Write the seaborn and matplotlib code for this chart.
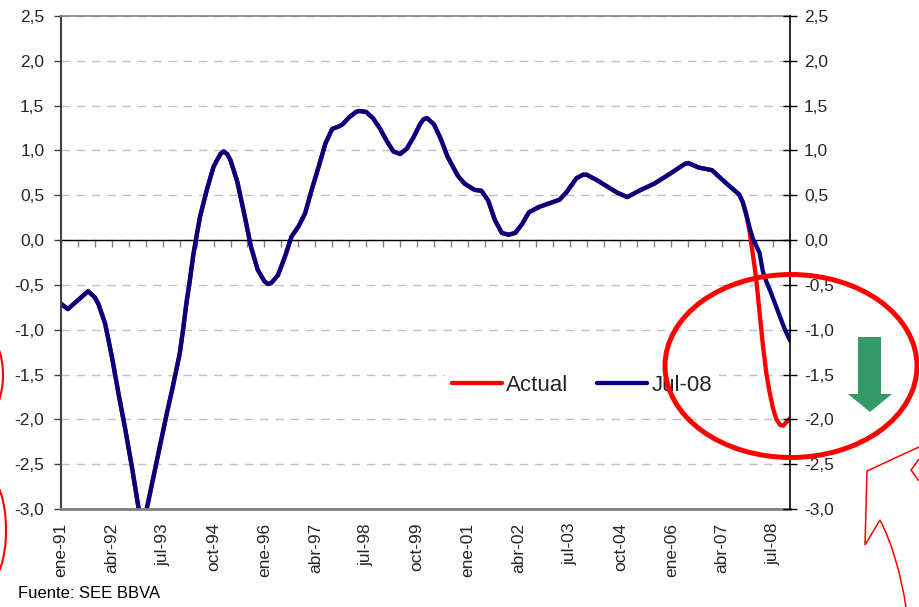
import matplotlib
matplotlib.use("Agg")
import numpy as np
import pandas as pd
import matplotlib.pyplot as plt
import seaborn as sns
from matplotlib.patches import Ellipse, Polygon, PathPatch
from matplotlib.path import Path
from matplotlib.ticker import FuncFormatter

# ---------------- data ----------------
tick_months = [0, 15, 30, 45, 60, 75, 90, 105, 120, 135, 150, 165, 180, 195, 210]
tick_labels = ["ene-91", "abr-92", "jul-93", "oct-94", "ene-96", "abr-97", "jul-98",
               "oct-99", "ene-01", "abr-02", "jul-03", "oct-04", "ene-06", "abr-07", "jul-08"]

# months counted from ene-91 (common history of both series)
hist_months = [0, 2, 5, 8, 10, 11, 13, 15, 17, 19, 21, 23, 24, 25, 27, 29, 31, 33, 35, 36, 37,
               38, 39, 40, 41, 43, 45, 47, 48, 49, 50, 52, 54, 56, 58, 60, 61, 62, 64, 66, 68, 70, 72,
               74, 76, 78, 80, 82, 83, 85, 87, 88, 90, 92, 94, 96, 98, 100, 102, 104, 106, 107, 108, 110,
               112, 114, 117, 119, 122, 124, 126, 128, 130, 132, 134, 136, 138, 141, 144, 147,
               149, 152, 154, 155, 158, 161, 164, 167, 171, 175, 180, 184, 185, 188, 192, 196, 200, 201, 202]
hist_values = [-0.71, -0.77, -0.67, -0.57, -0.64, -0.71, -0.93, -1.30, -1.72, -2.12, -2.55, -3.02, -3.15,
               -3.05, -2.69, -2.33, -1.97, -1.63, -1.27, -1.00, -0.70, -0.45, -0.17, 0.05, 0.26, 0.56,
               0.82, 0.96, 0.99, 0.96, 0.89, 0.65, 0.30, -0.07, -0.33, -0.46, -0.49, -0.48, -0.39, -0.19,
               0.04, 0.15, 0.30, 0.57, 0.82, 1.08, 1.24, 1.27, 1.29, 1.37, 1.43, 1.44, 1.43, 1.36, 1.25,
               1.11, 0.99, 0.96, 1.02, 1.15, 1.30, 1.35, 1.36, 1.29, 1.13, 0.93, 0.72, 0.63, 0.56, 0.55,
               0.44, 0.22, 0.08, 0.06, 0.08, 0.18, 0.31, 0.37, 0.41, 0.45, 0.53, 0.69, 0.73, 0.73, 0.67,
               0.60, 0.53, 0.48, 0.56, 0.63, 0.75, 0.85, 0.86, 0.81, 0.78, 0.64, 0.51, 0.43, 0.30]

tail_months = [203, 204, 205, 206, 207, 208, 209, 210, 211, 212, 213, 214, 215]
actual_tail = [0.12, -0.15, -0.42, -0.80, -1.17, -1.48, -1.70, -1.88, -2.00, -2.06, -2.07, -2.03, -1.99]
jul08_tail = [0.15, 0.02, -0.06, -0.14, -0.35, -0.46, -0.55, -0.65, -0.75, -0.85, -0.95, -1.04, -1.12]

series_names = ["Actual", "Jul-08"]
series_colors = ["#FF0000", "#000080"]
source_text = "Fuente: SEE BBVA"

# ---------------- build frame ----------------
df = pd.concat([
    pd.DataFrame({"mes": hist_months + tail_months, "valor": hist_values + actual_tail, "serie": series_names[0]}),
    pd.DataFrame({"mes": hist_months + tail_months, "valor": hist_values + jul08_tail, "serie": series_names[1]}),
], ignore_index=True)

sns.set_theme(style="white")
plt.rcParams["font.family"] = ["Liberation Sans", "DejaVu Sans"]

W, H = 919, 607
fig = plt.figure(figsize=(W / 100, H / 100), dpi=100)
fig.patch.set_facecolor("white")

L, R, T, B = 61, 790, 16, 509
rect = [L / W, 1 - B / H, (R - L) / W, (B - T) / H]
ax = fig.add_axes(rect)
ax.patch.set_visible(False)

# minor tick marks hanging from the zero line, drawn beneath the data
az = ax.twiny()
az.set_zorder(ax.get_zorder() - 1)
az.set_xlim(0, 215)
az.spines["bottom"].set_position(("data", 0))
for s in ["top", "left", "right", "bottom"]:
    az.spines[s].set_visible(False)
az.xaxis.set_ticks_position("bottom")
az.set_xticks(np.arange(0, 216, 5))
az.tick_params(axis="x", direction="out", length=5, width=1, color="#808080",
               labelbottom=False, labeltop=False, top=False, bottom=True)

ax.set_axisbelow(True)
ax.grid(axis="y", color="#C0C0C0", linestyle=(0, (6, 5)), linewidth=1.0)
ax.grid(axis="x", visible=False)
ax.axhline(0, color="black", linewidth=1.0, zorder=1.5)

sns.lineplot(data=df, x="mes", y="valor", hue="serie", hue_order=series_names,
             palette=dict(zip(series_names, series_colors)), linewidth=3.1,
             legend=False, ax=ax, sort=False, solid_joinstyle="round", solid_capstyle="round",
             zorder=2)

ax.set_xlim(0, 215)
ax.set_ylim(-3, 2.5)
yt = np.arange(-3, 2.51, 0.5)
fmt = FuncFormatter(lambda v, p: f"{v:.1f}".replace(".", ","))
ax.set_yticks(yt)
ax.yaxis.set_major_formatter(fmt)
ax.set_xticks(tick_months)
ax.set_xticklabels(tick_labels)
ax.set_xlabel("")
ax.set_ylabel("")

ax.tick_params(axis="y", direction="out", length=5, width=1, color="#404040",
               labelsize=12.5, labelcolor="#262626", pad=7, left=True)
ax.tick_params(axis="x", length=0, pad=10, labelrotation=90, labelsize=12.5, labelcolor="#262626")

ax.spines["top"].set_color("#808080")
ax.spines["top"].set_linewidth(1.2)
ax.spines["bottom"].set_color("#808080")
ax.spines["bottom"].set_linewidth(2.0)
ax.spines["left"].set_color("#404040")
ax.spines["left"].set_linewidth(1.5)
ax.spines["right"].set_visible(False)

# right axis
axr = ax.twinx()
axr.set_ylim(-3, 2.5)
axr.set_yticks(yt)
axr.yaxis.set_major_formatter(fmt)
for s in ["top", "left", "bottom"]:
    axr.spines[s].set_visible(False)
axr.spines["right"].set_color("black")
axr.spines["right"].set_linewidth(1.2)
axr.tick_params(axis="y", direction="inout", length=10, width=1, color="black",
                labelsize=12.5, labelcolor="#262626", pad=5)

# legend
leg = ax.legend(ax.get_lines()[1:3], series_names, loc="center", bbox_to_anchor=(0.715, 0.25),
                ncol=2, frameon=True, fontsize=16, handlelength=2.25, handletextpad=0.2,
                columnspacing=1.3, borderpad=0.3)
leg.get_frame().set_facecolor("white")
leg.get_frame().set_edgecolor("none")
leg.get_frame().set_alpha(1)
for ln in leg.get_lines():
    ln.set_linewidth(3.1)
    ln.set_solid_capstyle("round")

fig.text(18 / W, 1 - 593 / H, source_text, va="center", ha="left", fontsize=12, color="black")

# ---------------- decorations (figure pixel coords) ----------------
def px(x, y):
    return (x / 100, (H - y) / 100)

tr = fig.dpi_scale_trans
fig.add_artist(Ellipse(px(791, 366), 252 / 100, 183 / 100, transform=tr, fill=False,
                       edgecolor="#FF0000", linewidth=3.6))
fig.add_artist(Polygon([px(858, 337), px(881, 337), px(881, 394), px(892, 394), px(870, 412),
                        px(848, 394), px(858, 394)], closed=True, transform=tr,
                       facecolor="#339966", edgecolor="none"))
verts = [px(919, 447), px(867, 471), px(865, 545), px(880, 520), px(898, 555), px(906, 607),
         px(919, 459), px(911, 470), px(919, 481)]
codes = [Path.MOVETO, Path.LINETO, Path.LINETO, Path.LINETO, Path.CURVE3, Path.CURVE3,
         Path.MOVETO, Path.LINETO, Path.LINETO]
fig.add_artist(PathPatch(Path(verts, codes), transform=tr, fill=False, edgecolor="#FF0000", linewidth=1.1))
fig.add_artist(Ellipse(px(-15, 375), 36 / 100, 80 / 100, transform=tr, fill=False,
                       edgecolor="#FF0000", linewidth=1.5))
fig.add_artist(Ellipse(px(-10, 530), 32 / 100, 100 / 100, transform=tr, fill=False,
                       edgecolor="#FF0000", linewidth=1.5))

fig.savefig("out.png", dpi=100, facecolor="white")
